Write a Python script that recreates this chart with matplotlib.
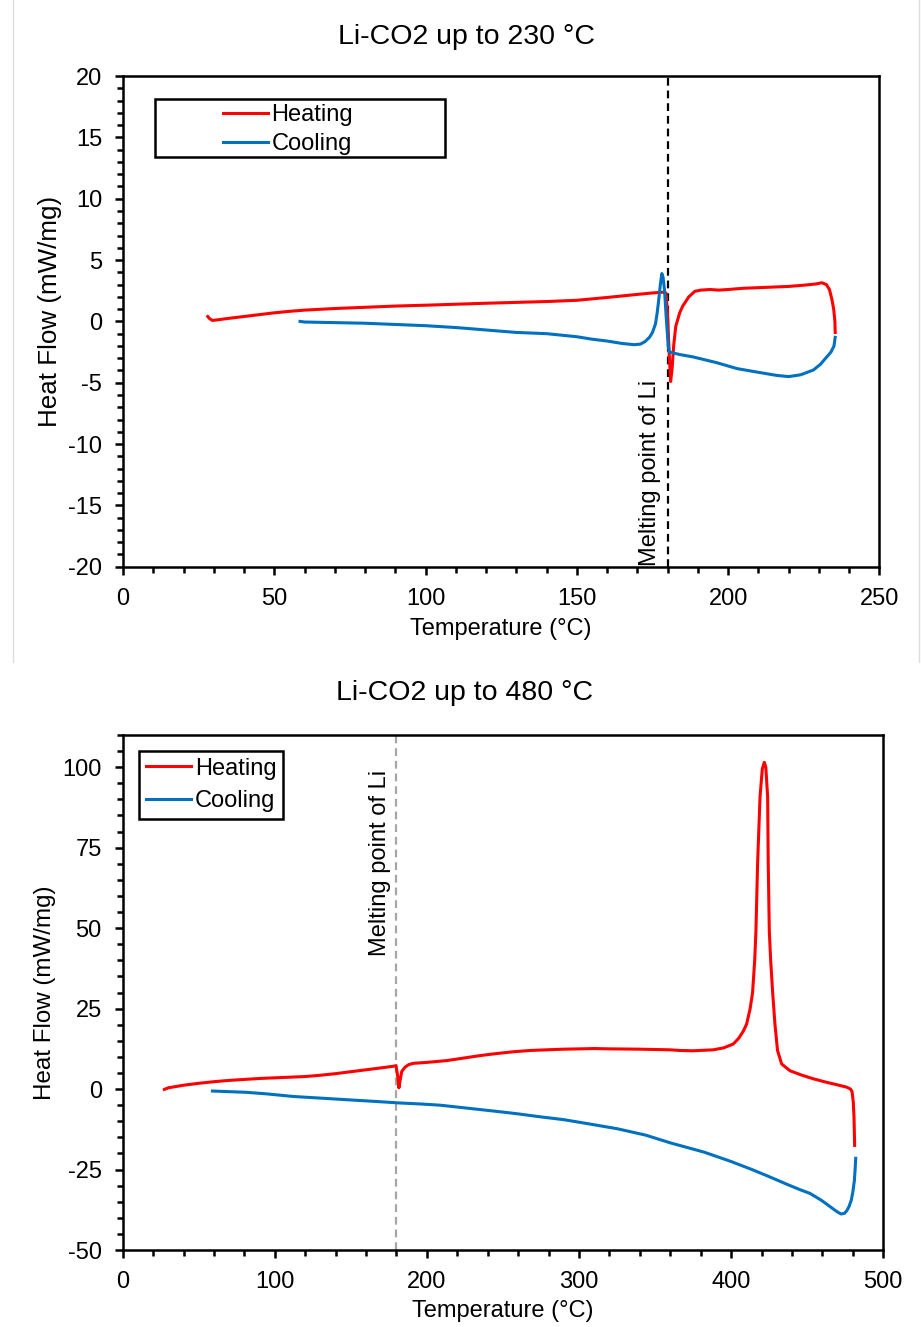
import matplotlib
matplotlib.use("Agg")
import matplotlib.pyplot as plt
from matplotlib.patches import Rectangle
from matplotlib.lines import Line2D
from matplotlib.ticker import MultipleLocator

plt.rcParams['font.family'] = ['Liberation Sans', 'DejaVu Sans']
plt.rcParams['axes.unicode_minus'] = False

RED = '#FF0000'
BLUE = '#0070C0'

# ---------------- Panel 1: up to 230 °C ----------------
heat1_T = [28.0, 28.5, 29.5, 31, 35, 40, 45, 50, 55, 60, 70, 80, 90, 100, 110, 120, 130,
           140, 150, 160, 170, 175, 178.5, 179.5, 180.0, 180.5, 181.0, 181.5, 182.0, 182.7,
           184, 185, 187, 189, 191, 194, 197, 200, 205, 210, 215, 220, 225, 229, 231,
           232.5, 233.5, 234.3, 234.9, 235.3, 235.4]
heat1_HF = [0.40, 0.25, 0.08, 0.12, 0.25, 0.40, 0.55, 0.70, 0.82, 0.92, 1.05, 1.15, 1.25,
            1.32, 1.40, 1.48, 1.55, 1.62, 1.72, 1.95, 2.20, 2.32, 2.38, 2.30, 0.5, -2.5,
            -4.9, -3.8, -2.0, -0.4, 0.7, 1.25, 2.0, 2.45, 2.55, 2.6, 2.55, 2.6, 2.7, 2.75,
            2.8, 2.85, 2.95, 3.05, 3.15, 3.0, 2.6, 1.8, 1.0, 0.0, -0.9]

cool1_T = [235.4, 235.0, 234.0, 232.6, 230.5, 228.2, 224, 220, 216, 210, 203, 196, 188.5,
           184, 181.5, 180.6, 180.2, 179.5, 179.0, 178.5, 178.1, 177.6, 177.0, 176.5, 176.0,
           175, 174, 172.5, 171, 169, 167, 165, 160, 155, 150, 140, 130, 120, 110, 100, 90,
           80, 70, 60, 58.5]
cool1_HF = [-1.3, -2.0, -2.5, -2.9, -3.5, -3.96, -4.35, -4.5, -4.4, -4.15, -3.85, -3.35,
            -2.9, -2.7, -2.55, -2.5, -2.0, 0.5, 2.5, 3.6, 3.9, 3.0, 1.6, 0.6, -0.2, -0.9,
            -1.3, -1.65, -1.85, -1.9, -1.85, -1.8, -1.6, -1.45, -1.25, -1.0, -0.9, -0.7,
            -0.5, -0.35, -0.25, -0.15, -0.1, -0.05, 0.0]

# ---------------- Panel 2: up to 480 °C ----------------
heat2_T = [27.4, 30, 40, 50, 60, 70, 80, 90, 100, 110, 120, 130, 140, 150, 160, 170, 178,
           179.7, 180.8, 181.6, 182.3, 183.5, 185.6, 188, 191, 200, 213, 225, 234.9, 245,
           256.8, 268, 278.7, 290, 300.6, 310, 320, 340, 360, 366.3, 375, 388.2, 395,
           401.4, 405, 408, 410.2, 412.5, 414.1, 415.5, 416.3, 417.4, 419.0, 420.5, 421.8,
           422.8, 424.0, 424.4, 425.1, 426.0, 427.3, 428.8, 430.5, 433.2, 438.7, 446, 454,
           462, 470, 476, 478.5, 479.5, 480.3, 480.8, 481.2]
heat2_HF = [-0.1, 0.4, 1.2, 1.8, 2.3, 2.7, 3.0, 3.3, 3.5, 3.7, 3.9, 4.3, 4.8, 5.4, 6.0,
            6.6, 7.1, 7.3, 4.0, 0.4, 2.5, 5.5, 6.8, 7.6, 8.0, 8.3, 8.85, 9.7, 10.4, 11.0,
            11.6, 12.0, 12.2, 12.4, 12.5, 12.6, 12.5, 12.4, 12.2, 12.0, 11.9, 12.2, 12.8,
            14.0, 15.8, 18.0, 20.2, 25, 30, 40, 49, 70, 90.8, 99.5, 101.5, 100, 90.8, 70,
            49, 40, 30, 20.2, 12, 7.8, 5.7, 4.4, 3.2, 2.2, 1.3, 0.6, 0.0, -0.8, -4, -9, -17.5]

cool2_T = [481.9, 481.5, 481.0, 480.0, 479.0, 477.5, 476.0, 474.5, 472.2, 470, 467, 463,
           459.5, 455, 451.8, 445, 436.3, 425, 413.2, 400, 382.3, 360, 343.8, 325, 305.2,
           290, 274.3, 260, 247.3, 230, 208.7, 195, 181.7, 165, 150.8, 130, 112.3, 95, 81.4,
           70, 59]
cool2_HF = [-21.5, -25, -28.5, -32, -34.5, -36.5, -37.8, -38.6, -38.8, -38.2, -37.2, -35.8,
            -34.6, -33.3, -32.4, -31.2, -29.5, -27.2, -24.9, -22.5, -19.6, -16.7, -14.3,
            -12.3, -10.7, -9.5, -8.6, -7.7, -7.0, -6.1, -5.0, -4.6, -4.3, -3.8, -3.4, -2.8,
            -2.3, -1.5, -1.0, -0.8, -0.6]

titles = ["Li-CO2 up to 230 \u00b0C", "Li-CO2 up to 480 \u00b0C"]
xlabel = "Temperature (\u00b0C)"
ylabel = "Heat Flow (mW/mg)"
series_names = ["Heating", "Cooling"]
melt_label = "Melting point of Li"
melt_T = 180

FS = 17
LW = 2.2

fig = plt.figure(figsize=(9.21, 13.27), dpi=100)

ax1 = fig.add_axes([0.1336, 0.5729, 0.8212, 0.3698])
ax2 = fig.add_axes([0.1332, 0.0580, 0.8258, 0.3881])


def style(ax):
    for s in ax.spines.values():
        s.set_linewidth(1.8)
        s.set_color('black')
    ax.tick_params(which='both', direction='out', top=False, right=False,
                   labelsize=FS, width=1.8, color='black', pad=9)
    ax.tick_params(which='major', length=6)
    ax.tick_params(which='minor', length=4.5)


# Panel 1
ax1.plot(heat1_T, heat1_HF, color=RED, lw=LW, label=series_names[0], zorder=3)
ax1.plot(cool1_T, cool1_HF, color=BLUE, lw=LW, label=series_names[1], zorder=3)
ax1.axvline(melt_T, color='black', lw=1.6, ls=(0, (3.5, 2.2)), zorder=2)
ax1.text(174.3, -19.9, melt_label, rotation=90, ha='center', va='bottom', fontsize=FS)
ax1.set_xlim(0, 250)
ax1.set_ylim(-20, 20)
ax1.xaxis.set_major_locator(MultipleLocator(50))
ax1.xaxis.set_minor_locator(MultipleLocator(10))
ax1.yaxis.set_major_locator(MultipleLocator(5))
ax1.yaxis.set_minor_locator(MultipleLocator(1))
style(ax1)
ax1.set_xlabel(xlabel, fontsize=FS)
ax1.set_ylabel(ylabel, fontsize=18.7)
ax1.xaxis.set_label_coords(0.5, -0.105)
ax1.yaxis.set_label_coords(-0.081, 0.52)
leg1 = ax1.legend(loc='upper left', bbox_to_anchor=(0.132, 0.943), frameon=False,
                  fontsize=FS, borderpad=0, borderaxespad=0, handlelength=1.9,
                  handletextpad=0.15, labelspacing=0.29)
ax1.add_patch(Rectangle((0.0423, 0.835), 0.3835, 0.118, transform=ax1.transAxes,
                        fill=False, lw=1.8, edgecolor='black', zorder=5))

# Panel 2
ax2.plot(heat2_T, heat2_HF, color=RED, lw=LW, label=series_names[0], zorder=3)
ax2.plot(cool2_T, cool2_HF, color=BLUE, lw=LW, label=series_names[1], zorder=3)
ax2.axvline(melt_T, color='#A6A6A6', lw=1.6, ls=(0, (3.5, 2.2)), zorder=2)
ax2.text(169.1, 99.3, melt_label, rotation=90, ha='center', va='top', fontsize=FS)
ax2.set_xlim(0, 500)
ax2.set_ylim(-50, 110)
ax2.xaxis.set_major_locator(MultipleLocator(100))
ax2.xaxis.set_minor_locator(MultipleLocator(20))
ax2.yaxis.set_minor_locator(MultipleLocator(5))
ax2.set_yticks([-50, -25, 0, 25, 50, 75, 100])
style(ax2)
ax2.set_xlabel(xlabel, fontsize=FS)
ax2.set_ylabel(ylabel, fontsize=17.4)
ax2.xaxis.set_label_coords(0.5, -0.097)
ax2.yaxis.set_label_coords(-0.088, 0.5)
leg2 = ax2.legend(loc='upper left', bbox_to_anchor=(0.0218, 0.969), frameon=True,
                  fontsize=FS, borderpad=0.28, borderaxespad=0, handlelength=1.9,
                  handletextpad=0.17, labelspacing=0.45, fancybox=False)
leg2.get_frame().set_edgecolor('black')
leg2.get_frame().set_linewidth(1.8)
leg2.get_frame().set_alpha(1)

# Titles
fig.text(466 / 921, 1 - 37 / 1327, titles[0], ha='center', va='center', fontsize=20.5)
fig.text(465 / 921, 1 - 693 / 1327, titles[1], ha='center', va='center', fontsize=20.5)

# light frame of the upper screenshot
for xf in (13 / 921, 919 / 921):
    fig.add_artist(Line2D([xf, xf], [1 - 662 / 1327, 1], transform=fig.transFigure,
                          color='#DDDDDD', lw=1))

fig.savefig('out.png', dpi=100, facecolor='white')
